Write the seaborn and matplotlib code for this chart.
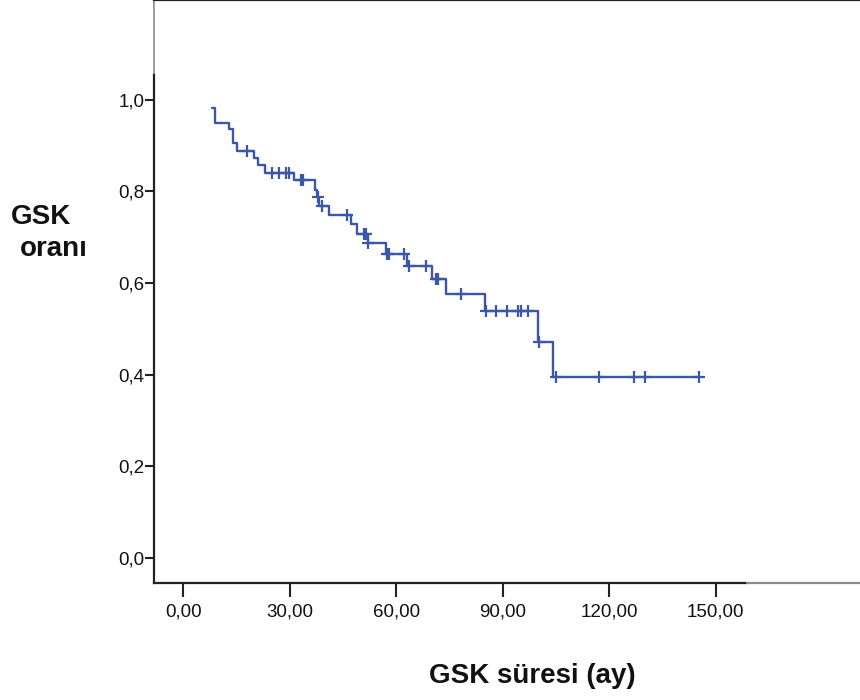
import numpy as np
import pandas as pd
import matplotlib
matplotlib.use("Agg")
import matplotlib.pyplot as plt
import seaborn as sns

# ---- data ----
start_time = 8.0
start_surv = 0.982
event_times = [8.9, 12.95, 13.9, 15.0, 19.9, 21.0, 23.1, 31.3, 37.1, 37.6, 38.2,
               41.0, 47.1, 49.0, 51.9, 57.1, 63.1, 70.0, 74.0, 85.1, 100.0, 104.0]
event_surv = [0.950, 0.936, 0.905, 0.889, 0.873, 0.857, 0.841, 0.825, 0.803, 0.788, 0.768,
              0.749, 0.729, 0.707, 0.687, 0.664, 0.638, 0.609, 0.576, 0.539, 0.472, 0.394]
censor_times = [17.9, 25.1, 26.9, 28.9, 29.8, 33.1, 33.8, 37.9, 39.0, 46.0, 51.0, 51.6,
                52.1, 57.3, 58.0, 62.2, 63.6, 68.3, 71.2, 71.8, 78.1, 85.3, 88.0, 91.1,
                94.2, 95.0, 97.0, 100.3, 105.0, 117.1, 127.0, 130.0, 145.2]
x_ticks = [0, 30, 60, 90, 120, 150]
x_tick_labels = ["0,00", "30,00", "60,00", "90,00", "120,00", "150,00"]
y_ticks = [0.0, 0.2, 0.4, 0.6, 0.8, 1.0]
y_tick_labels = ["0,0", "0,2", "0,4", "0,6", "0,8", "1,0"]
x_title = "GSK süresi (ay)"
y_title_lines = ["GSK", "oranı"]

# ---- build step table and censor table ----
end_time = max(censor_times)
step_df = pd.DataFrame({
    "time": [start_time] + event_times + [end_time],
    "surv": [start_surv] + event_surv + [event_surv[-1]],
})
all_t = np.array([start_time] + event_times)
all_s = np.array([start_surv] + event_surv)
idx = np.searchsorted(all_t, np.array(censor_times), side="right") - 1
cens_df = pd.DataFrame({"time": censor_times, "surv": all_s[idx]})

# ---- style ----
sns.set_style("white")
plt.rcParams["font.family"] = ["Liberation Sans", "DejaVu Sans"]

LINE = "#3c56a8"
DARK = "#222222"
GRAY = "#8a8a8a"

fig = plt.figure(figsize=(8.6, 7.0), dpi=100)
ax = fig.add_axes([154 / 860, 117 / 700, (860 - 154) / 860, 583 / 700])

sns.lineplot(data=step_df, x="time", y="surv", ax=ax, color=LINE, lw=1.7,
             drawstyle="steps-post", estimator=None, sort=False)
sns.scatterplot(data=cens_df, x="time", y="surv", ax=ax, marker="+", s=85,
                color=LINE, linewidth=1.6, zorder=3)

xmin, xmax = -8.25, 190.6
ymin, ymax = -0.0546, 1.218
ax.set_xlim(xmin, xmax)
ax.set_ylim(ymin, ymax)

ax.set_xticks(x_ticks)
ax.set_xticklabels(x_tick_labels)
ax.set_yticks(y_ticks)
ax.set_yticklabels(y_tick_labels)
ax.tick_params(axis="x", length=10, width=1.5, color=DARK, pad=4.5,
               labelsize=13.5, labelcolor="#111111", bottom=True)
ax.tick_params(axis="y", length=6.5, width=1.5, color=DARK, pad=0.3,
               labelsize=13.5, labelcolor="#111111", left=True)
ax.set_xlabel("")
ax.set_ylabel("")

# spines: dark inner axis, gray outer frame
inner_ytop = 1.0546
inner_xright = 158.2
for side in ["left", "bottom", "top"]:
    ax.spines[side].set_visible(True)
    ax.spines[side].set_color(DARK)
    ax.spines[side].set_linewidth(1.6)
ax.spines["right"].set_visible(False)
ax.spines["left"].set_bounds(ymin, inner_ytop)
ax.spines["bottom"].set_bounds(xmin, inner_xright)
ax.plot([xmin, xmin], [inner_ytop, ymax], color=GRAY, lw=1.2, clip_on=False, zorder=1)
ax.plot([inner_xright, xmax], [ymin, ymin], color=GRAY, lw=1.6, clip_on=False, zorder=1)

# axis titles
fig.text(532 / 860, 1 - 683 / 700, x_title, ha="center", va="baseline",
         fontsize=20, fontweight="bold", color="#111111")
fig.text(11 / 860, 1 - 223.5 / 700, y_title_lines[0], ha="left", va="baseline",
         fontsize=20, fontweight="bold", color="#111111")
fig.text(20 / 860, 1 - 255.7 / 700, y_title_lines[1], ha="left", va="baseline",
         fontsize=20, fontweight="bold", color="#111111")

fig.savefig("out.png", dpi=100)
